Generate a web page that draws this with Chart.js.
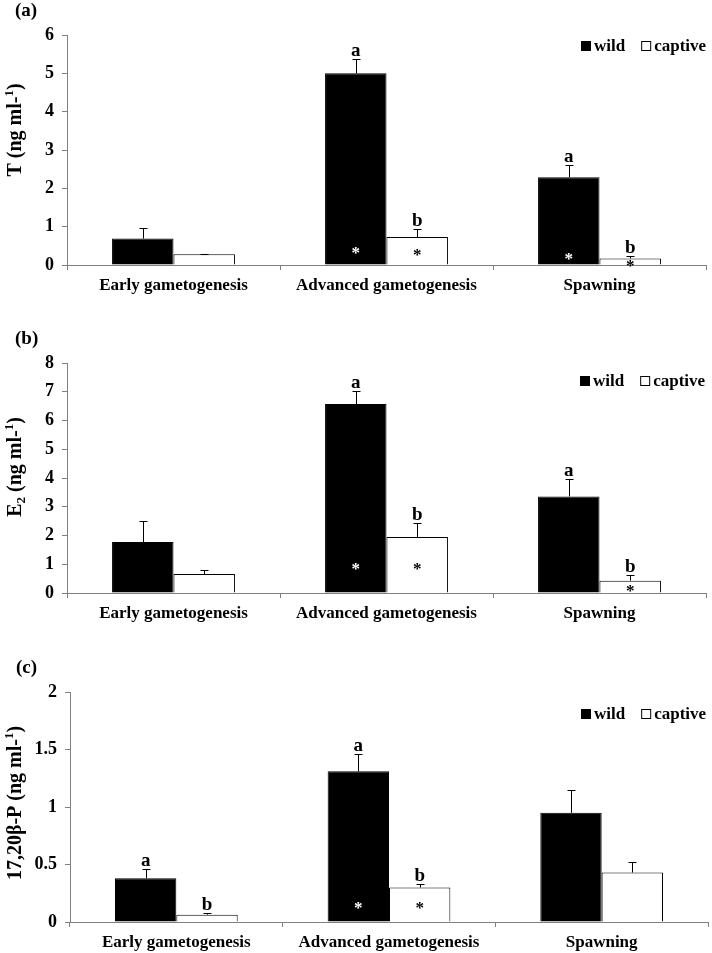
<!DOCTYPE html>
<html>
<head>
<meta charset="utf-8">
<script src="https://cdn.jsdelivr.net/npm/chart.js@4"></script>
<style>
  body { margin: 0; background: #fff; }
  #wrap { position: relative; width: 712px; height: 953px; }
  canvas { position: absolute; left: 0; top: 0; }
</style>
</head>
<body>
<div id="wrap">
  <canvas id="chartT" width="712" height="953"></canvas>
  <canvas id="chartE2" width="712" height="953"></canvas>
  <canvas id="chartP" width="712" height="953"></canvas>
</div>
<script>
const stages = ["Early gametogenesis", "Advanced gametogenesis", "Spawning"];
const seriesNames = ["wild", "captive"];

// (a) testosterone
const tWild = [0.69, 5.0, 2.29];
const tWildErr = [0.27, 0.37, 0.33];
const tCaptive = [0.28, 0.73, 0.17];
const tCaptiveErr = [0.02, 0.2, 0.06];
const tWildLetters = ["", "a", "a"];
const tCaptiveLetters = ["", "b", "b"];
const tWildStars = [false, true, true];
const tCaptiveStars = [false, true, true];
const tTicks = [0, 1, 2, 3, 4, 5, 6];

// (b) estradiol
const e2Wild = [1.77, 6.57, 3.36];
const e2WildErr = [0.74, 0.47, 0.61];
const e2Captive = [0.66, 1.95, 0.43];
const e2CaptiveErr = [0.13, 0.47, 0.2];
const e2WildLetters = ["", "a", "a"];
const e2CaptiveLetters = ["", "b", "b"];
const e2WildStars = [false, true, false];
const e2CaptiveStars = [false, true, true];
const e2Ticks = [0, 1, 2, 3, 4, 5, 6, 7, 8];

// (c) 17,20b-P
const pWild = [0.38, 1.31, 0.95];
const pWildErr = [0.08, 0.15, 0.2];
const pCaptive = [0.064, 0.3, 0.43];
const pCaptiveErr = [0.014, 0.03, 0.09];
const pWildLetters = ["a", "a", ""];
const pCaptiveLetters = ["b", "b", ""];
const pWildStars = [false, true, false];
const pCaptiveStars = [false, true, false];
const pTicks = [0, 0.5, 1, 1.5, 2];

const serif = '"Liberation Serif", "Times New Roman", serif';
const axisGray = "#808080";

const annotPlugin = {
  id: "annot",
  afterDatasetsDraw(chart, args, opts) {
    const ctx = chart.ctx;
    const ys = chart.scales.y;
    ctx.save();
    chart.data.datasets.forEach((ds, di) => {
      const meta = chart.getDatasetMeta(di);
      meta.data.forEach((bar, i) => {
        const bx = Math.round(bar.x) + 0.5;
        const top = Math.round(ys.getPixelForValue(ds.data[i] + ds.errors[i])) + 0.5;
        ctx.strokeStyle = "#000";
        ctx.lineWidth = 1;
        ctx.beginPath();
        ctx.moveTo(bx, bar.y);
        ctx.lineTo(bx, top);
        ctx.moveTo(bx - 4, top);
        ctx.lineTo(bx + 4, top);
        ctx.stroke();

        ctx.textAlign = "center";
        ctx.textBaseline = "alphabetic";
        if (ds.letters[i]) {
          ctx.fillStyle = "#000";
          ctx.font = "bold 19px " + serif;
          ctx.fillText(ds.letters[i], bar.x, top - 4);
        }
        if (ds.stars[i]) {
          ctx.fillStyle = di === 0 ? "#fff" : "#000";
          ctx.font = "bold 17px " + serif;
          const lift = opts.starLift[di][i];
          ctx.fillText("*", bar.x, ys.bottom - lift + 8);
        }
      });
    });

    // legend
    ctx.font = "bold 17px " + serif;
    ctx.textAlign = "left";
    ctx.textBaseline = "alphabetic";
    let lx = opts.legend.x;
    const ly = opts.legend.y;
    chart.data.datasets.forEach((ds, di) => {
      if (di === 0) {
        ctx.fillStyle = "#000";
        ctx.fillRect(lx, ly - 5, 10, 10);
      } else {
        ctx.fillStyle = "#fff";
        ctx.fillRect(lx, ly - 5, 10, 10);
        ctx.strokeStyle = "#000";
        ctx.strokeRect(lx + 0.5, ly - 4.5, 9, 9);
      }
      ctx.fillStyle = "#000";
      ctx.fillText(ds.label, lx + 13, ly + 5);
      lx += 13 + ctx.measureText(ds.label).width + 16;
    });

    // panel label
    ctx.font = "bold 19px " + serif;
    ctx.fillText(opts.panel.text, opts.panel.x, opts.panel.y);

    // rotated axis title with sub/superscripts
    ctx.translate(opts.title.x, opts.title.y);
    ctx.rotate(-Math.PI / 2);
    let total = 0;
    opts.title.parts.forEach(p => {
      ctx.font = "bold " + p.size + "px " + serif;
      p.w = ctx.measureText(p.text).width;
      total += p.w;
    });
    let tx = -total / 2;
    opts.title.parts.forEach(p => {
      ctx.font = "bold " + p.size + "px " + serif;
      ctx.fillText(p.text, tx, p.dy);
      tx += p.w;
    });
    ctx.restore();
  }
};

function unitParts(head) {
  return head.concat([
    { text: " (ng ml-", size: 20, dy: 0 },
    { text: "1", size: 13, dy: -8 },
    { text: ")", size: 20, dy: 0 }
  ]);
}

function buildPanel(id, spec) {
  const area = spec.area;
  new Chart(document.getElementById(id).getContext("2d"), {
    type: "bar",
    data: {
      labels: stages,
      datasets: [
        {
          label: seriesNames[0],
          data: spec.wild,
          errors: spec.wildErr,
          letters: spec.wildLetters,
          stars: spec.wildStars,
          backgroundColor: "#000",
          borderColor: "#000",
          borderWidth: 1,
          barPercentage: 1,
          categoryPercentage: 0.577
        },
        {
          label: seriesNames[1],
          data: spec.captive,
          errors: spec.captiveErr,
          letters: spec.captiveLetters,
          stars: spec.captiveStars,
          backgroundColor: "#fff",
          borderColor: "#000",
          borderWidth: 1,
          barPercentage: 1,
          categoryPercentage: 0.577
        }
      ]
    },
    options: {
      responsive: false,
      animation: false,
      devicePixelRatio: 1,
      events: [],
      layout: {
        padding: {
          left: 0,
          right: 712 - area.right,
          top: area.top,
          bottom: 953 - area.bottom - 35
        }
      },
      scales: {
        x: {
          afterFit: s => { s.height = 35; },
          grid: {
            display: true,
            offset: true,
            drawOnChartArea: false,
            drawTicks: true,
            tickLength: 5,
            color: axisGray
          },
          border: { color: axisGray, width: 1 },
          ticks: {
            color: "#000",
            font: { family: serif, size: 17, weight: "bold" },
            padding: 5,
            maxRotation: 0,
            autoSkip: false
          }
        },
        y: {
          min: 0,
          max: spec.ticks[spec.ticks.length - 1],
          afterFit: s => { s.width = area.left; },
          afterBuildTicks: s => { s.ticks = spec.ticks.map(v => ({ value: v })); },
          grid: {
            drawOnChartArea: false,
            drawTicks: true,
            tickLength: 5,
            color: axisGray
          },
          border: { color: axisGray, width: 1 },
          ticks: {
            color: "#000",
            font: { family: serif, size: 18, weight: "bold" },
            padding: 8,
            callback: v => String(v)
          }
        }
      },
      plugins: {
        legend: { display: false },
        tooltip: { enabled: false },
        annot: {
          starLift: spec.starLift,
          legend: spec.legend,
          panel: spec.panel,
          title: spec.title
        }
      }
    },
    plugins: [annotPlugin]
  });
}

buildPanel("chartT", {
  area: { left: 67, right: 706, top: 35, bottom: 265 },
  wild: tWild, wildErr: tWildErr, captive: tCaptive, captiveErr: tCaptiveErr,
  wildLetters: tWildLetters, captiveLetters: tCaptiveLetters,
  wildStars: tWildStars, captiveStars: tCaptiveStars,
  ticks: tTicks,
  starLift: [[0, 15, 9], [0, 13, 2]],
  legend: { x: 581, y: 46 },
  panel: { text: "(a)", x: 15, y: 16 },
  title: { x: 21, y: 130, parts: unitParts([{ text: "T", size: 20, dy: 0 }]) }
});

buildPanel("chartE2", {
  area: { left: 67, right: 706, top: 363, bottom: 593 },
  wild: e2Wild, wildErr: e2WildErr, captive: e2Captive, captiveErr: e2CaptiveErr,
  wildLetters: e2WildLetters, captiveLetters: e2CaptiveLetters,
  wildStars: e2WildStars, captiveStars: e2CaptiveStars,
  ticks: e2Ticks,
  starLift: [[0, 27, 0], [0, 27, 5]],
  legend: { x: 580, y: 381 },
  panel: { text: "(b)", x: 15, y: 344 },
  title: {
    x: 21, y: 467,
    parts: unitParts([{ text: "E", size: 20, dy: 0 }, { text: "2", size: 13, dy: 4 }])
  }
});

buildPanel("chartP", {
  area: { left: 70, right: 708, top: 692, bottom: 922 },
  wild: pWild, wildErr: pWildErr, captive: pCaptive, captiveErr: pCaptiveErr,
  wildLetters: pWildLetters, captiveLetters: pCaptiveLetters,
  wildStars: pWildStars, captiveStars: pCaptiveStars,
  ticks: pTicks,
  starLift: [[0, 17, 0], [0, 17, 0]],
  legend: { x: 581, y: 714 },
  panel: { text: "(c)", x: 16, y: 673 },
  title: { x: 21, y: 803, parts: unitParts([{ text: "17,20β-P", size: 20, dy: 0 }]) }
});
</script>
</body>
</html>
